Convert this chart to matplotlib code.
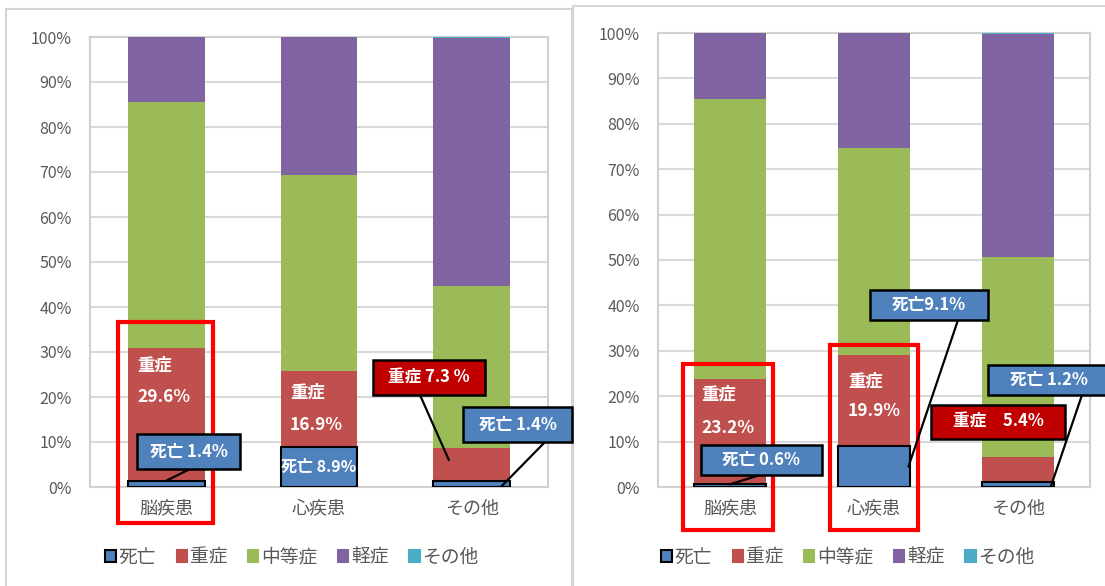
import matplotlib
matplotlib.use("Agg")
import matplotlib.pyplot as plt
from matplotlib.patches import Rectangle
from matplotlib.lines import Line2D
import numpy as np

plt.rcParams['font.family'] = ['Noto Sans CJK JP', 'DejaVu Sans']

categories = ["脳疾患", "心疾患", "その他"]
series = ["死亡", "重症", "中等症", "軽症", "その他"]
colors = ["#4F81BD", "#C0504D", "#9BBB59", "#8064A2", "#4BACC6"]

# left chart values (%)
left_death = [1.4, 8.9, 1.4]
left_severe = [29.6, 16.9, 7.3]
left_moderate = [54.6, 43.5, 35.9]
left_mild = [14.4, 30.7, 55.1]
left_other = [0.0, 0.0, 0.3]

# right chart values (%)
right_death = [0.6, 9.1, 1.2]
right_severe = [23.2, 19.9, 5.4]
right_moderate = [61.7, 45.6, 44.0]
right_mild = [14.5, 25.4, 49.1]
right_other = [0.0, 0.0, 0.3]

yticks = [0, 10, 20, 30, 40, 50, 60, 70, 80, 90, 100]
ytick_labels = [f"{v}%" for v in yticks]

W, H = 1105, 586
fig = plt.figure(figsize=(W / 100, H / 100), dpi=100)
fig.patch.set_facecolor("white")


def fx(x):
    return x / W


def fy(y):
    return 1 - y / H


# panel frames
for (x0, y0, x1, y1) in [(6, 9, 572, 590), (573, 6, 1110, 590)]:
    fig.add_artist(Rectangle((fx(x0), fy(y1)), fx(x1) - fx(x0), fy(y0) - fy(y1),
                             transform=fig.transFigure, facecolor="white",
                             edgecolor="#d4d4d4", linewidth=1.5, zorder=0))


def make_axes(box, data):
    x0, y0, x1, y1 = box
    ax = fig.add_axes([fx(x0), fy(y1), fx(x1) - fx(x0), fy(y0) - fy(y1)])
    xs = np.arange(len(categories))
    bottom = np.zeros(len(categories))
    for k, (name, vals, c) in enumerate(zip(series, data, colors)):
        vals = np.array(vals)
        ec = "black" if k == 0 else c
        lw = 1.5 if k == 0 else 0
        ax.bar(xs, vals, 0.5, bottom=bottom, color=c, edgecolor=ec,
               linewidth=lw, zorder=3 if k else 4, label=name)
        bottom = bottom + vals
    ax.set_xlim(-0.5, 2.5)
    ax.set_ylim(0, 100)
    ax.set_yticks(yticks)
    ax.set_yticklabels(ytick_labels, fontsize=11.5, color="#595959")
    ax.set_xticks(xs)
    ax.set_xticklabels(categories, fontsize=13, color="#595959")
    ax.tick_params(length=0, pad=13)
    ax.tick_params(axis="x", pad=9)
    ax.grid(axis="y", color="#d9d9d9", linewidth=1.5, zorder=0)
    for s in ax.spines.values():
        s.set_color("#d0d0d0")
        s.set_linewidth(1.5)
    ax.set_axisbelow(True)
    return ax


axL = make_axes((90, 37, 548, 487),
                [left_death, left_severe, left_moderate, left_mild, left_other])
axR = make_axes((658, 33, 1090, 487),
                [right_death, right_severe, right_moderate, right_mild, right_other])


def to_px(ax, x, y):
    X, Y = fig.transFigure.inverted().transform(ax.transData.transform((x, y)))
    return X, Y


def box(x0, y0, x1, y1, text, fc, fs=12):
    fig.add_artist(Rectangle((fx(x0), fy(y1)), fx(x1) - fx(x0), fy(y0) - fy(y1),
                             transform=fig.transFigure, facecolor=fc,
                             edgecolor="black", linewidth=1.8, zorder=10))
    fig.text(fx((x0 + x1) / 2), fy((y0 + y1) / 2), text, ha="center", va="center",
             color="white", fontsize=fs, fontweight="bold", zorder=11)


def line(ax, xd, yd, xp, yp):
    X, Y = to_px(ax, xd, yd)
    fig.add_artist(Line2D([X, fx(xp)], [Y, fy(yp)], transform=fig.transFigure,
                          color="black", linewidth=1.6, zorder=9))


def red_frame(x0, y0, x1, y1):
    fig.add_artist(Rectangle((fx(x0), fy(y1)), fx(x1) - fx(x0), fy(y0) - fy(y1),
                             transform=fig.transFigure, facecolor="none",
                             edgecolor="#FF0000", linewidth=3, zorder=8))


def bar_label(ax, x, top, d1, d2, value):
    ax.text(x, top - d1, "重症", color="white", fontsize=12.5,
            fontweight="bold", ha="left", va="center", zorder=6)
    ax.text(x, top - d2, f"{value}%", color="white", fontsize=12.5,
            fontweight="bold", ha="left", va="center", zorder=6)


BLUE = "#4F81BD"
DRED = "#C00000"

# ---- left panel annotations
bar_label(axL, -0.19, left_death[0] + left_severe[0], 4.1, 11.0, left_severe[0])
bar_label(axL, 0.81, left_death[1] + left_severe[1], 4.9, 12.0, left_severe[1])
axL.text(1.0, left_death[1] / 2, f"死亡 {left_death[1]}%", color="white",
         fontsize=11.5, fontweight="bold", ha="center", va="center", zorder=6)

line(axL, 0.0, left_death[0], 190, 469)
box(137, 434, 240, 469, f"死亡 {left_death[0]}%", BLUE)
line(axL, 1.85, left_death[2] + left_severe[2] / 2 + 1, 420, 395)
box(373, 360, 485, 395, f"重症 {left_severe[2]} %", DRED)
line(axL, 2.2, 0.3, 545, 442)
box(463, 407, 572, 442, f"死亡 {left_death[2]}%", BLUE)
red_frame(118, 322, 213, 523)

# ---- right panel annotations
bar_label(axR, -0.2, right_death[0] + right_severe[0], 3.5, 10.8, right_severe[0])
bar_label(axR, 0.82, right_death[1] + right_severe[1], 5.7, 12.3, right_severe[1])

line(axR, 0.0, right_death[0], 760, 475)
box(701, 445, 822, 475, f"死亡 {right_death[0]}%", BLUE)
line(axR, 1.24, right_death[1] / 2, 958, 320)
box(870, 290, 988, 320, f"死亡{right_death[1]}%", BLUE)
box(931, 405, 1065, 439, f"重症　{right_severe[2]}%", DRED)
line(axR, 2.23, 0.3, 1082, 395)
box(988, 365, 1110, 395, f"死亡 {right_death[2]}%", BLUE)
red_frame(683, 364, 773, 530)
red_frame(830, 345, 918, 530)

# legends
for ax, cx in [(axL, 292), (axR, 848)]:
    handles = [Rectangle((0, 0), 1, 1, facecolor=c,
                         edgecolor="black" if i == 0 else c, linewidth=1.5)
               for i, c in enumerate(colors)]
    fig.legend(handles, series, loc="center", bbox_to_anchor=(fx(cx), fy(557)),
               ncol=5, frameon=False, fontsize=13.5, handlelength=0.55,
               handleheight=0.55, handletextpad=0.15, columnspacing=1.1,
               labelcolor="#595959")

fig.savefig("out.png", dpi=100, facecolor="white")
